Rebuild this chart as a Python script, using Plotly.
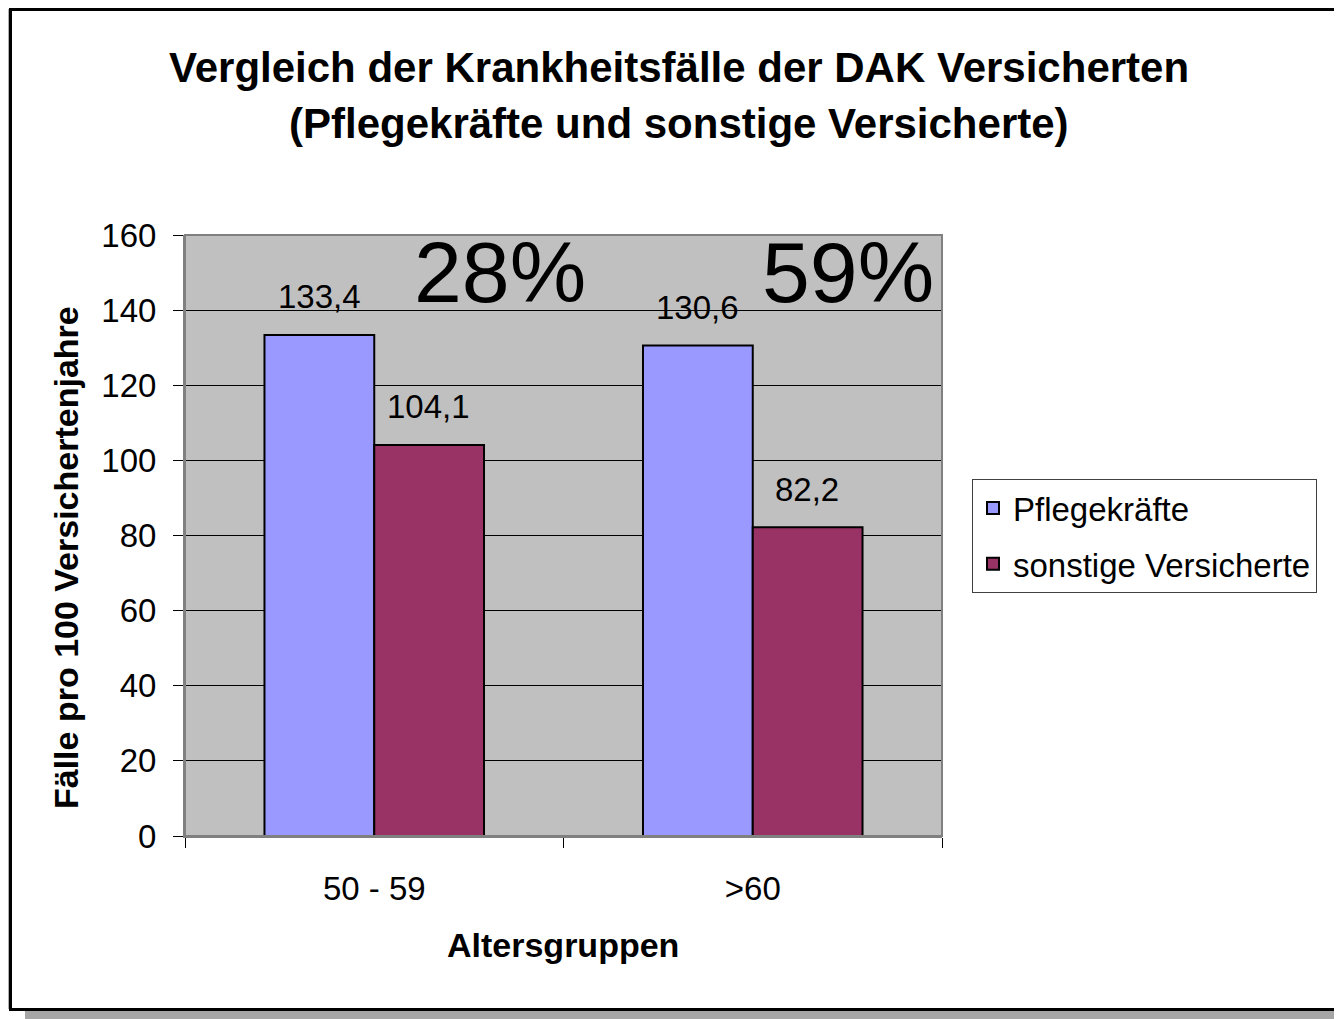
import plotly.graph_objects as go

# ---- data ----
categories = ["50 - 59", ">60"]
pflegekraefte = [133.4, 130.6]
sonstige = [104.1, 82.2]
labels_pflege = ["133,4", "130,6"]
labels_sonstige = ["104,1", "82,2"]
percent_labels = ["28%", "59%"]
y_ticks = [0, 20, 40, 60, 80, 100, 120, 140, 160]

# page body has an 8px margin; work in screen coordinates and subtract it
OFF = 8
W, H = 1342 - OFF, 1019 - OFF
L, R, T, B = 185 - OFF, 942 - OFF, 235 - OFF, 836 - OFF


def px(x):
    return (x - OFF - L) / (R - L)


def py(y):
    return (B - (y - OFF)) / (B - T)


FONT = "Liberation Sans, Arial, sans-serif"

fig = go.Figure()
fig.add_trace(go.Bar(
    name="Pflegekräfte", x=categories, y=pflegekraefte,
    marker=dict(color="#9999FF", line=dict(color="black", width=2)),
    legendgroup="a",
))
fig.add_trace(go.Bar(
    name="sonstige Versicherte", x=categories, y=sonstige,
    marker=dict(color="#993366", line=dict(color="black", width=2)),
    legendgroup="b",
))

annotations = []
# data labels
for i, c in enumerate(categories):
    annotations.append(dict(x=c, y=pflegekraefte[i], xref="x", yref="y", text=labels_pflege[i],
                            showarrow=False, xshift=-55, yshift=38, yanchor="middle",
                            font=dict(size=33, color="black", family=FONT)))
    annotations.append(dict(x=c, y=sonstige[i], xref="x", yref="y", text=labels_sonstige[i],
                            showarrow=False, xshift=54, yshift=38, yanchor="middle",
                            font=dict(size=33, color="black", family=FONT)))

# big percent labels
for xc, t in zip([500, 848], percent_labels):
    annotations.append(dict(x=px(xc), y=py(272), xref="paper", yref="paper", text=t,
                            showarrow=False, xanchor="center", yanchor="middle",
                            font=dict(size=86, color="black", family=FONT)))

# title
annotations.append(dict(x=px(679), y=py(67), xref="paper", yref="paper",
                        text="<b>Vergleich der Krankheitsfälle der DAK Versicherten</b>",
                        showarrow=False, xanchor="center", yanchor="middle",
                        font=dict(size=42, color="black", family=FONT)))
annotations.append(dict(x=px(679), y=py(124), xref="paper", yref="paper",
                        text="<b>(Pflegekräfte und sonstige Versicherte)</b>",
                        showarrow=False, xanchor="center", yanchor="middle",
                        font=dict(size=42, color="black", family=FONT)))
# axis titles
annotations.append(dict(x=px(563), y=py(945), xref="paper", yref="paper",
                        text="<b>Altersgruppen</b>", showarrow=False,
                        xanchor="center", yanchor="middle",
                        font=dict(size=34, color="black", family=FONT)))
annotations.append(dict(x=px(66), y=py(558), xref="paper", yref="paper",
                        text="<b>Fälle pro 100 Versichertenjahre</b>", showarrow=False,
                        textangle=-90, xanchor="center", yanchor="middle",
                        font=dict(size=34, color="black", family=FONT)))

shapes = [
    # shadow
    dict(type="rect", xref="paper", yref="paper", x0=px(25), x1=px(1370), y0=py(1040), y1=py(1011),
         fillcolor="#A6A6A6", line=dict(width=0), layer="below"),
    # thin light edge left of the border
    dict(type="line", xref="paper", yref="paper", x0=px(8.5), x1=px(8.5), y0=py(1009), y1=py(9),
         line=dict(color="#B0B0B0", width=1), layer="below"),
    # outer border
    dict(type="rect", xref="paper", yref="paper", x0=px(10.5), x1=px(1360), y0=py(1009.5), y1=py(9.5),
         fillcolor="rgba(0,0,0,0)", line=dict(color="black", width=3), layer="above"),
    # plot area border
    dict(type="rect", xref="paper", yref="paper", x0=0, x1=1, y0=0, y1=1,
         fillcolor="rgba(0,0,0,0)", line=dict(color="#808080", width=2), layer="above"),
]

fig.update_layout(
    width=W, height=H,
    margin=dict(l=L, r=W - R, t=T, b=H - B, autoexpand=False),
    paper_bgcolor="white", plot_bgcolor="#C0C0C0",
    barmode="group", bargap=0.42, bargroupgap=0,
    font=dict(family=FONT, color="black", size=33),
    showlegend=True,
    legend=dict(x=px(972), y=py(479), xanchor="left", yanchor="top",
                bordercolor="#404040", borderwidth=1, bgcolor="white",
                font=dict(size=33, family=FONT, color="black"),
                traceorder="grouped", tracegroupgap=10),
    annotations=annotations,
    shapes=shapes,
    xaxis=dict(type="category", tickson="boundaries", ticks="outside", ticklen=10,
               tickcolor="black", tickwidth=1, showline=True, linecolor="#808080", linewidth=2,
               tickfont=dict(size=33, family=FONT, color="black"), ticklabelstandoff=22,
               showgrid=False, automargin=False),
    yaxis=dict(range=[0, 160], tickvals=y_ticks, ticks="outside", ticklen=10,
               tickcolor="black", tickwidth=1, showline=True, linecolor="#808080", linewidth=2,
               showgrid=True, gridcolor="black", gridwidth=1, zeroline=False,
               tickfont=dict(size=33, family=FONT, color="black"), ticklabelstandoff=10,
               automargin=False),
)

fig.write_html("out.html")
